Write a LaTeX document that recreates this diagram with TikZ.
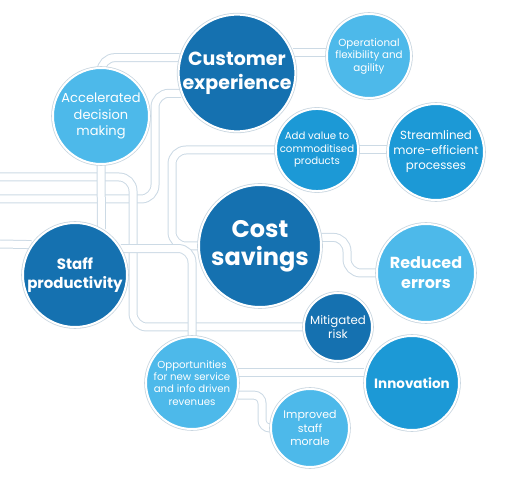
\documentclass[tikz,border=0pt]{standalone}
\usepackage{fontspec}
\setmainfont{Poppins}
\usetikzlibrary{backgrounds}

\definecolor{darkblue}{HTML}{1571B0}
\definecolor{midblue}{HTML}{1C99D6}
\definecolor{lightblue}{HTML}{4DB9EA}
\definecolor{ringline}{HTML}{C9D6E0}
\definecolor{pipeline}{HTML}{CCDAE5}

\tikzset{
  bubble/.style={circle, draw=white, line width=2pt,
    preaction={draw=ringline, line width=3.6pt},
    text=white, align=center, inner sep=0pt},
  darkbub/.style={bubble, fill=darkblue},
  midbub/.style={bubble, fill=midblue},
  lightbub/.style={bubble, fill=lightblue},
  pipe/.style={draw=pipeline, line width=1pt, double=white,
    double distance=7pt, rounded corners=14pt},
}

\begin{document}
\begin{tikzpicture}[x=1pt, y=-1pt]
    \useasboundingbox (0,0) rectangle (515,484);

    % Big circles
    \node[darkbub, minimum size=114pt, font=\bfseries\fontsize{19}{24}\selectfont] (cust) at (237,73) {Customer\\experience};
    \node[darkbub, minimum size=122pt, font=\bfseries\fontsize{24}{28}\selectfont] (cost) at (260,246) {Cost\\savings};
    \node[darkbub, minimum size=104pt, font=\bfseries\fontsize{15}{19}\selectfont] (staff) at (75,275) {Staff\\productivity};
    \node[darkbub, minimum size=68pt, font=\fontsize{11.8}{14}\selectfont] (mitig) at (338,327) {Mitigated\\risk};

    % Medium circles
    \node[midbub, minimum size=82pt, font=\fontsize{10.2}{12.5}\selectfont] (addv) at (317,150) {Add value to\\commoditised\\products};
    \node[midbub, minimum size=96pt, font=\fontsize{11.8}{15}\selectfont] (stream) at (436,152) {Streamlined\\more-efficient\\processes};
    \node[midbub, minimum size=94pt, font=\bfseries\fontsize{13.5}{16}\selectfont] (innov) at (412,383) {Innovation};

    % Light circles
    \node[lightbub, minimum size=84pt, font=\fontsize{10.3}{12.5}\selectfont] (oper) at (369,56) {Operational\\flexibility and\\agility};
    \node[lightbub, minimum size=96pt, font=\fontsize{13}{16.5}\selectfont] (accel) at (101,116) {Accelerated\\decision\\making};
    \node[lightbub, minimum size=98pt, font=\bfseries\fontsize{16}{20}\selectfont] (reduce) at (426,273) {Reduced\\errors};
    \node[lightbub, minimum size=92pt, font=\fontsize{10.2}{12.3}\selectfont] (opport) at (192,383) {Opportunities\\for new service\\and info driven\\revenues};
    \node[lightbub, minimum size=78pt, font=\fontsize{11}{13.5}\selectfont] (morale) at (310,428) {Improved\\staff\\morale};

    % Free ends at the left edge
    \coordinate (w1) at (0,177);
    \coordinate (w2) at (0,199);
    \coordinate (w3) at (0,244);

    % Pipes
    \begin{scope}[on background layer]
        \draw[pipe] (cust.165) -| (accel.north);
        \draw[pipe] (cust.200) -| (155,199) -- (w2);
        \draw[pipe] (addv.west) -- (172,150) -- (172,246) -- (cost.west);
        \draw[pipe] (w1) -- (133,177) -- (133,327) -- (mitig.west);
        \draw[pipe] (accel.south) -- (staff.60);
        \draw[pipe] (w3) -- (staff.145);
        \draw[pipe] (staff.30) -| (opport.north);
        \draw[pipe] (cost.8) -| (347,273) -- (reduce.west);
        \draw[pipe] (cust.20) -- (cust.20 -| oper.west);
        \draw[pipe] (addv.east) -- (addv.east -| stream.west);
        \draw[pipe] (opport.13) -- (opport.13 -| innov.west);
        \draw[pipe, rounded corners=8pt] (opport.-15) -| (262,428) -- (morale.west);
    \end{scope}
\end{tikzpicture}
\end{document}
